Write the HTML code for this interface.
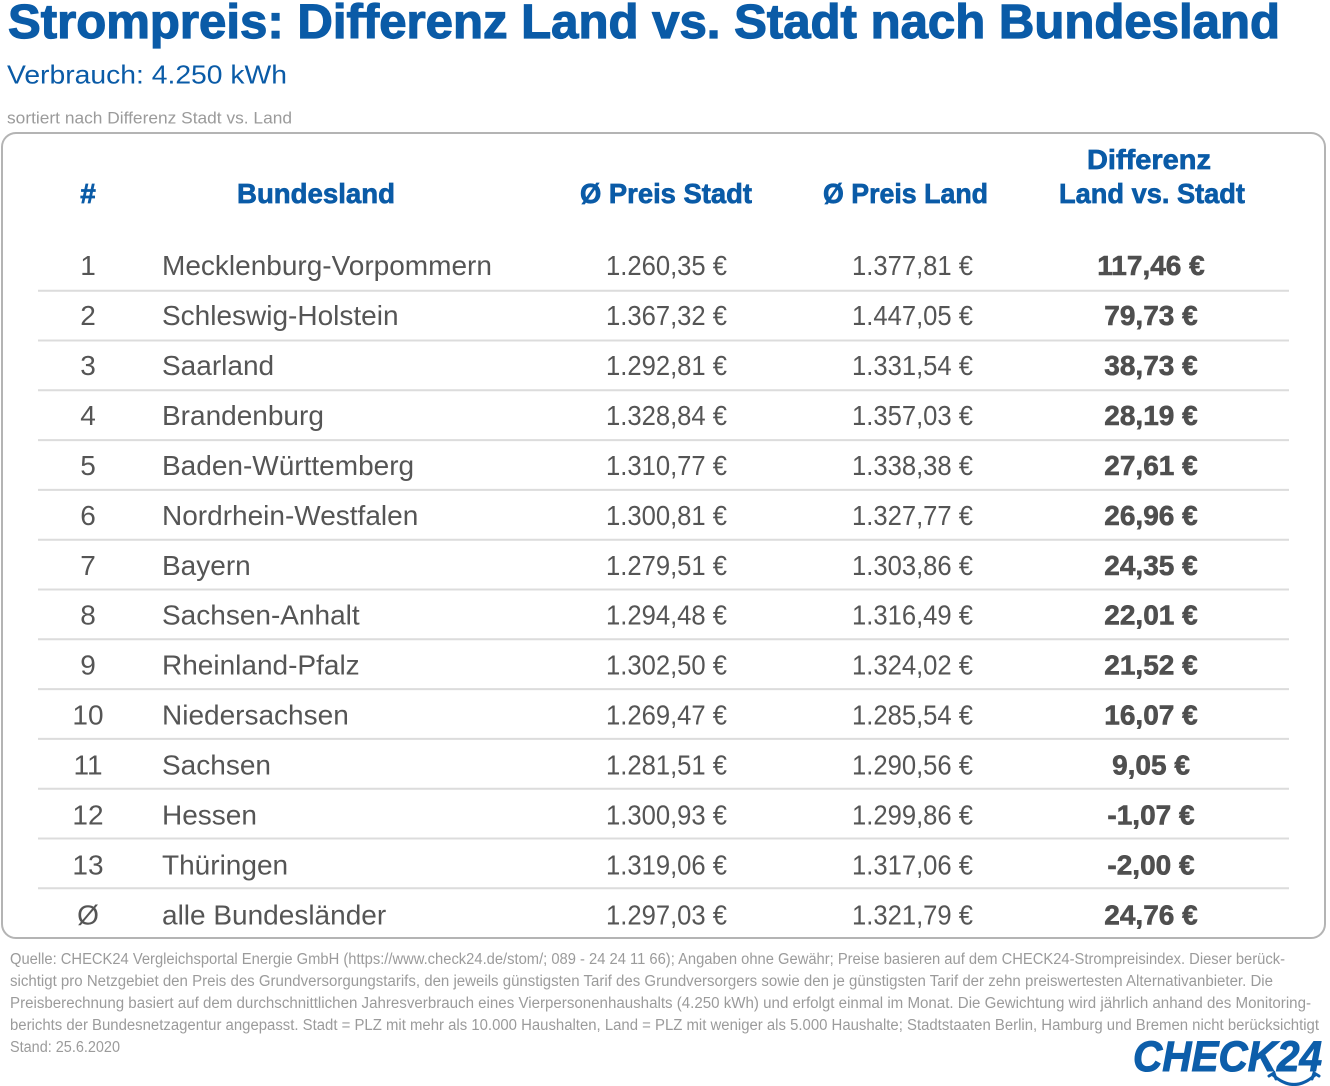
<!DOCTYPE html>
<html>
<head>
<meta charset="utf-8">
<style>
html,body{margin:0;padding:0;background:#fff;}
svg{display:block;}
</style>
</head>
<body>
<svg width="1330" height="1086" viewBox="0 0 1330 1086" xmlns="http://www.w3.org/2000/svg" font-family="'Liberation Sans', Arial, sans-serif">
  <rect x="0" y="0" width="1330" height="1086" fill="#ffffff"/>

  <!-- Title -->
  <text x="8" y="38" font-size="48" font-weight="bold" fill="#0a5ba7" stroke="#0a5ba7" stroke-width="1.2" textLength="1272" lengthAdjust="spacingAndGlyphs">Strompreis: Differenz Land vs. Stadt nach Bundesland</text>
  <text x="7" y="83.5" font-size="26" fill="#0a5ba7" textLength="280" lengthAdjust="spacingAndGlyphs">Verbrauch: 4.250 kWh</text>
  <text x="7" y="123.5" font-size="16.5" fill="#9b9b9b" textLength="285" lengthAdjust="spacingAndGlyphs">sortiert nach Differenz Stadt vs. Land</text>

  <!-- Box -->
  <rect x="2" y="133" width="1323" height="805" rx="14" ry="14" fill="none" stroke="#b4b4b4" stroke-width="2"/>

  <!-- Header -->
  <g font-size="28" font-weight="bold" fill="#0a5ba7" stroke="#0a5ba7" stroke-width="0.7">
    <text x="88" y="203" text-anchor="middle">#</text>
    <text x="237" y="203" textLength="158" lengthAdjust="spacingAndGlyphs">Bundesland</text>
    <text x="580" y="203" textLength="172" lengthAdjust="spacingAndGlyphs">Ø Preis Stadt</text>
    <text x="823" y="203" textLength="165" lengthAdjust="spacingAndGlyphs">Ø Preis Land</text>
    <text x="1087" y="169" textLength="124" lengthAdjust="spacingAndGlyphs">Differenz</text>
    <text x="1059" y="203" textLength="186" lengthAdjust="spacingAndGlyphs">Land vs. Stadt</text>
  </g>

  <!-- Separators -->
  <g stroke="#dcdcdc" stroke-width="2">
    <line x1="38" y1="290.7" x2="1289" y2="290.7"/>
    <line x1="38" y1="340.5" x2="1289" y2="340.5"/>
    <line x1="38" y1="390.3" x2="1289" y2="390.3"/>
    <line x1="38" y1="440.1" x2="1289" y2="440.1"/>
    <line x1="38" y1="489.9" x2="1289" y2="489.9"/>
    <line x1="38" y1="539.7" x2="1289" y2="539.7"/>
    <line x1="38" y1="589.5" x2="1289" y2="589.5"/>
    <line x1="38" y1="639.3" x2="1289" y2="639.3"/>
    <line x1="38" y1="689.1" x2="1289" y2="689.1"/>
    <line x1="38" y1="738.9" x2="1289" y2="738.9"/>
    <line x1="38" y1="788.7" x2="1289" y2="788.7"/>
    <line x1="38" y1="838.5" x2="1289" y2="838.5"/>
    <line x1="38" y1="888.3" x2="1289" y2="888.3"/>
  </g>

  <!-- Rows -->
  <g font-size="28" fill="#555555">
    <!-- numbers -->
    <g text-anchor="middle">
      <text x="88" y="275">1</text>
      <text x="88" y="325">2</text>
      <text x="88" y="375">3</text>
      <text x="88" y="425">4</text>
      <text x="88" y="475">5</text>
      <text x="88" y="525">6</text>
      <text x="88" y="575">7</text>
      <text x="88" y="624.5">8</text>
      <text x="88" y="674.5">9</text>
      <text x="88" y="724.5">10</text>
      <text x="88" y="774.5">11</text>
      <text x="88" y="824.5">12</text>
      <text x="88" y="874.5">13</text>
      <text x="88" y="924.5">Ø</text>
    </g>
    <!-- names -->
    <text x="162" y="275">Mecklenburg-Vorpommern</text>
    <text x="162" y="325">Schleswig-Holstein</text>
    <text x="162" y="375">Saarland</text>
    <text x="162" y="425">Brandenburg</text>
    <text x="162" y="475">Baden-Württemberg</text>
    <text x="162" y="525">Nordrhein-Westfalen</text>
    <text x="162" y="575">Bayern</text>
    <text x="162" y="624.5">Sachsen-Anhalt</text>
    <text x="162" y="674.5">Rheinland-Pfalz</text>
    <text x="162" y="724.5">Niedersachsen</text>
    <text x="162" y="774.5">Sachsen</text>
    <text x="162" y="824.5">Hessen</text>
    <text x="162" y="874.5">Thüringen</text>
    <text x="162" y="924.5">alle Bundesländer</text>
    <!-- Stadt -->
    <g>
      <text x="606" y="275" textLength="121" lengthAdjust="spacingAndGlyphs">1.260,35 €</text>
      <text x="606" y="325" textLength="121" lengthAdjust="spacingAndGlyphs">1.367,32 €</text>
      <text x="606" y="375" textLength="121" lengthAdjust="spacingAndGlyphs">1.292,81 €</text>
      <text x="606" y="425" textLength="121" lengthAdjust="spacingAndGlyphs">1.328,84 €</text>
      <text x="606" y="475" textLength="121" lengthAdjust="spacingAndGlyphs">1.310,77 €</text>
      <text x="606" y="525" textLength="121" lengthAdjust="spacingAndGlyphs">1.300,81 €</text>
      <text x="606" y="575" textLength="121" lengthAdjust="spacingAndGlyphs">1.279,51 €</text>
      <text x="606" y="624.5" textLength="121" lengthAdjust="spacingAndGlyphs">1.294,48 €</text>
      <text x="606" y="674.5" textLength="121" lengthAdjust="spacingAndGlyphs">1.302,50 €</text>
      <text x="606" y="724.5" textLength="121" lengthAdjust="spacingAndGlyphs">1.269,47 €</text>
      <text x="606" y="774.5" textLength="121" lengthAdjust="spacingAndGlyphs">1.281,51 €</text>
      <text x="606" y="824.5" textLength="121" lengthAdjust="spacingAndGlyphs">1.300,93 €</text>
      <text x="606" y="874.5" textLength="121" lengthAdjust="spacingAndGlyphs">1.319,06 €</text>
      <text x="606" y="924.5" textLength="121" lengthAdjust="spacingAndGlyphs">1.297,03 €</text>
    </g>
    <!-- Land -->
    <g>
      <text x="852" y="275" textLength="121" lengthAdjust="spacingAndGlyphs">1.377,81 €</text>
      <text x="852" y="325" textLength="121" lengthAdjust="spacingAndGlyphs">1.447,05 €</text>
      <text x="852" y="375" textLength="121" lengthAdjust="spacingAndGlyphs">1.331,54 €</text>
      <text x="852" y="425" textLength="121" lengthAdjust="spacingAndGlyphs">1.357,03 €</text>
      <text x="852" y="475" textLength="121" lengthAdjust="spacingAndGlyphs">1.338,38 €</text>
      <text x="852" y="525" textLength="121" lengthAdjust="spacingAndGlyphs">1.327,77 €</text>
      <text x="852" y="575" textLength="121" lengthAdjust="spacingAndGlyphs">1.303,86 €</text>
      <text x="852" y="624.5" textLength="121" lengthAdjust="spacingAndGlyphs">1.316,49 €</text>
      <text x="852" y="674.5" textLength="121" lengthAdjust="spacingAndGlyphs">1.324,02 €</text>
      <text x="852" y="724.5" textLength="121" lengthAdjust="spacingAndGlyphs">1.285,54 €</text>
      <text x="852" y="774.5" textLength="121" lengthAdjust="spacingAndGlyphs">1.290,56 €</text>
      <text x="852" y="824.5" textLength="121" lengthAdjust="spacingAndGlyphs">1.299,86 €</text>
      <text x="852" y="874.5" textLength="121" lengthAdjust="spacingAndGlyphs">1.317,06 €</text>
      <text x="852" y="924.5" textLength="121" lengthAdjust="spacingAndGlyphs">1.321,79 €</text>
    </g>
    <!-- Differenz -->
    <g font-weight="bold" fill="#4f4f4f" stroke="#4f4f4f" stroke-width="0.6" text-anchor="middle">
      <text x="1151" y="275">117,46 €</text>
      <text x="1151" y="325">79,73 €</text>
      <text x="1151" y="375">38,73 €</text>
      <text x="1151" y="425">28,19 €</text>
      <text x="1151" y="475">27,61 €</text>
      <text x="1151" y="525">26,96 €</text>
      <text x="1151" y="575">24,35 €</text>
      <text x="1151" y="624.5">22,01 €</text>
      <text x="1151" y="674.5">21,52 €</text>
      <text x="1151" y="724.5">16,07 €</text>
      <text x="1151" y="774.5">9,05 €</text>
      <text x="1151" y="824.5">-1,07 €</text>
      <text x="1151" y="874.5">-2,00 €</text>
      <text x="1151" y="924.5">24,76 €</text>
    </g>
  </g>

  <!-- Footer -->
  <g font-size="15.5" fill="#9b9b9b">
    <text x="10" y="964" textLength="1275" lengthAdjust="spacingAndGlyphs">Quelle: CHECK24 Vergleichsportal Energie GmbH (https://www.check24.de/stom/; 089 - 24 24 11 66); Angaben ohne Gewähr; Preise basieren auf dem CHECK24-Strompreisindex. Dieser berück-</text>
    <text x="10" y="986" textLength="1263" lengthAdjust="spacingAndGlyphs">sichtigt pro Netzgebiet den Preis des Grundversorgungstarifs, den jeweils günstigsten Tarif des Grundversorgers sowie den je günstigsten Tarif der zehn preiswertesten Alternativanbieter. Die</text>
    <text x="10" y="1008" textLength="1301" lengthAdjust="spacingAndGlyphs">Preisberechnung basiert auf dem durchschnittlichen Jahresverbrauch eines Vierpersonenhaushalts (4.250 kWh) und erfolgt einmal im Monat. Die Gewichtung wird jährlich anhand des Monitoring-</text>
    <text x="10" y="1030" textLength="1309" lengthAdjust="spacingAndGlyphs">berichts der Bundesnetzagentur angepasst. Stadt = PLZ mit mehr als 10.000 Haushalten, Land = PLZ mit weniger als 5.000 Haushalte;  Stadtstaaten Berlin, Hamburg und Bremen nicht berücksichtigt</text>
    <text x="10" y="1052" textLength="110" lengthAdjust="spacingAndGlyphs">Stand: 25.6.2020</text>
  </g>

  <!-- Logo -->
  <text x="1133" y="1071" font-size="43" font-weight="bold" font-style="italic" fill="#0d5eaa" stroke="#0d5eaa" stroke-width="1" textLength="189" lengthAdjust="spacingAndGlyphs">CHECK24</text>
  <g fill="none" stroke="#0d5eaa" stroke-width="3" stroke-linecap="round">
    <path d="M1273,1075 Q1294,1094 1315,1075"/>
    <path d="M1269,1076 L1274,1073 L1276,1079"/>
    <path d="M1319,1076 L1314,1073 L1312,1079"/>
  </g>
</svg>
</body>
</html>
